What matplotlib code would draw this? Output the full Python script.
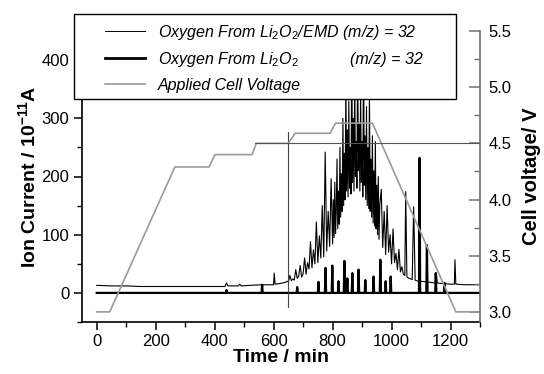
"""Ion current (O2, m/z = 32) and applied cell voltage versus time."""
import matplotlib; matplotlib.use("Agg")
import matplotlib.pyplot as plt
from matplotlib.patches import Rectangle
from matplotlib.ticker import MultipleLocator

plt.rcParams["font.family"] = ["Liberation Sans", "DejaVu Sans"]
plt.rcParams["mathtext.fontset"] = "custom"
plt.rcParams["mathtext.rm"] = "Liberation Sans"
plt.rcParams["mathtext.it"] = "Liberation Sans:italic"
plt.rcParams["mathtext.bf"] = "Liberation Sans:bold"

# --- O2 from Li2O2/EMD (thin trace), min / 1e-11 A
emd_t = [0, 50, 100, 150, 200, 250, 300, 350, 400, 435, 440, 445, 480, 485, 490,
         520, 560, 600, 602, 605, 620,
         640, 645, 650, 655, 660, 665, 670, 675, 680, 685, 690, 695, 700, 705,
         710, 715, 720, 725, 730, 735, 740, 745, 750, 755, 760, 765, 770, 775,
         780, 785, 790, 795,
         800, 802.5, 805, 807.5, 810, 812.5, 815, 817.5, 820, 822.5, 825, 827.5,
         830, 832.5, 835, 837.5, 840, 842.5, 845, 847.5, 850, 852.5, 855, 857.5,
         860, 862.5, 865, 867.5, 870, 872.5, 875, 877.5, 880, 882.5, 885, 887.5,
         890, 892.5, 895, 897.5, 900, 902.5, 905, 907.5, 910, 912.5, 915, 917.5,
         920, 922.5, 925, 927.5, 930, 932.5, 935, 937.5, 940, 942.5, 945, 947.5,
         950, 952.5, 955, 957.5, 960,
         965, 970, 975, 980, 985,
         990, 995, 1000, 1005, 1010, 1015, 1020, 1025, 1030, 1035, 1040, 1045,
         1048, 1052, 1060, 1065, 1070, 1075, 1080, 1085, 1090, 1100, 1150, 1152,
         1155, 1200, 1213, 1215, 1218, 1250, 1300]
emd_v = [13, 12, 12, 11, 11, 11, 11, 11, 11, 11, 17, 12, 12, 15, 12,
         13, 14, 14, 34, 15, 16,
         18, 20, 19, 30, 21, 24, 22, 40, 25, 29, 47, 27, 33, 60,
         32, 52, 41, 88, 43, 74, 50, 122, 52, 98, 60, 150, 62, 242,
         72, 140, 80, 196,
         84, 160, 95, 190, 102, 140, 230, 110, 175, 118, 250, 130,
         205, 140, 300, 150, 240, 160, 365, 175, 280, 165, 330, 180,
         250, 170, 440, 190, 300, 175, 380, 200, 260, 180, 420, 210,
         290, 175, 350, 190, 260, 165, 430, 185, 270, 160, 320, 150,
         250, 145, 345, 140, 230, 130, 270, 120, 210, 115, 260, 110,
         185, 100, 200, 92, 150,
         178, 78, 140, 66, 150,
         70, 100, 50, 110, 52, 68, 40, 75, 36, 45, 32, 30,
         174, 27, 25, 24, 23, 148, 22, 21, 20, 20, 17, 34,
         17, 15, 15, 57, 15, 14, 14]

# --- O2 from Li2O2 (thick trace): baseline ~0 with spikes (time, height)
li_spike_t = [440, 561, 680, 752, 776, 799, 820, 840, 850, 867, 888, 911, 939,
              962, 980, 997, 1095, 1120, 1150, 1180]
li_spike_v = [5, 14, 10, 19, 43, 47, 20, 55, 25, 34, 40, 22, 28,
              57, 20, 28, 232, 82, 34, 17]

# --- applied cell voltage, V
volt_t = [0, 44, 265, 381, 401, 527, 541, 650, 673, 792, 810, 935, 1218, 1300]
volt_v = [3.0, 3.0, 4.29, 4.29, 4.40, 4.40, 4.50, 4.50, 4.59, 4.59, 4.68, 4.68,
          3.0, 3.0]

legend_labels = [r"Oxygen From Li$_2$O$_2$/EMD (m/z) = 32",
                 r"Oxygen From Li$_2$O$_2$",
                 "Applied Cell Voltage"]

GRAY = "#9a9a9a"


def spikes(ts, hs, t0=0, t1=1300):
    xs, ys = [t0], [0]
    for t, h in zip(ts, hs):
        xs += [t - 2, t, t + 2]
        ys += [0, h, 0]
    xs.append(t1); ys.append(0)
    return xs, ys


def main():
    fig = plt.figure(figsize=(5.44, 3.74), dpi=100)
    ax = fig.add_axes([82 / 544, 52 / 374, 398 / 544, 291 / 374])
    ax2 = ax.twinx()

    li_t, li_v = spikes(li_spike_t, li_spike_v)
    ax.plot(emd_t, emd_v, color="black", lw=0.8)
    ax.plot(li_t, li_v, color="black", lw=1.6)
    ax.plot([650, 650], [-24, 277], color="#444444", lw=0.8)

    ax2.plot(volt_t, volt_v, color=GRAY, lw=1.2)
    ax2.plot([537, 1300], [4.5, 4.5], color="#555555", lw=0.8)

    ax.set_xlim(-50, 1300)
    ax.set_ylim(-50, 450)
    ax2.set_ylim(2.91, 5.5)

    ax.xaxis.set_major_locator(MultipleLocator(200))
    ax.xaxis.set_minor_locator(MultipleLocator(100))
    ax.yaxis.set_major_locator(MultipleLocator(100))
    ax.yaxis.set_minor_locator(MultipleLocator(50))
    ax2.yaxis.set_major_locator(MultipleLocator(0.5))
    ax2.yaxis.set_minor_locator(MultipleLocator(0.25))

    for s in ("top", "right"):
        ax.spines[s].set_visible(False)
    for s in ("top", "left", "bottom"):
        ax2.spines[s].set_visible(False)
    for s in ("left", "bottom"):
        ax.spines[s].set_linewidth(1.2)
    ax2.spines["right"].set_linewidth(1.2)
    ax2.spines["right"].set_color("#707070")

    ax.tick_params(which="major", direction="out", length=6, width=1.1,
                   labelsize=12, pad=3)
    ax.tick_params(which="minor", direction="out", length=3.5, width=1.0)
    ax2.tick_params(which="major", direction="in", length=8, width=1.1,
                    color="#707070", labelsize=12, pad=6)
    ax2.tick_params(which="minor", direction="in", length=4, width=1.0, color="#707070")
    ax2.yaxis.set_major_formatter(plt.FormatStrFormatter("%.1f"))

    ax.set_xlabel("Time / min", fontsize=14, fontweight="bold", labelpad=0)
    ax.set_ylabel(r"Ion Current / 10$^{\mathbf{-11}}$A", fontsize=14,
                  fontweight="bold", labelpad=2)
    ax2.set_ylabel("Cell voltage/ V", fontsize=14.5, fontweight="bold", labelpad=8)

    # legend box drawn by hand so it can hang past the left spine as in the original
    X = lambda px: (px - 82) / 398
    Y = lambda py: (322 - py) / 291
    tr = ax2.transAxes
    ax2.add_patch(Rectangle((X(74), Y(99)), X(456) - X(74), Y(14) - Y(99),
                            transform=tr, facecolor="white", edgecolor="black",
                            lw=1.0, clip_on=False, zorder=5))
    styles = [dict(color="black", lw=0.7), dict(color="black", lw=2.0),
              dict(color=GRAY, lw=1.2)]
    fs = 11.5
    for row_y, lab, st in zip([31, 58, 84], legend_labels, styles):
        ax2.plot([X(105), X(145)], [Y(row_y), Y(row_y)], transform=tr,
                 clip_on=False, zorder=6, **st)
        ax2.text(X(158), Y(row_y + 5.7), lab, transform=tr, fontsize=fs,
                 style="italic", va="baseline", ha="left", zorder=7)
    ax2.text(X(350), Y(58 + 5.7), "(m/z) = 32", transform=tr, fontsize=fs,
             style="italic", va="baseline", ha="left", zorder=7)

    fig.savefig("out.png", dpi=100)
    plt.close(fig)


if __name__ == "__main__":
    main()
